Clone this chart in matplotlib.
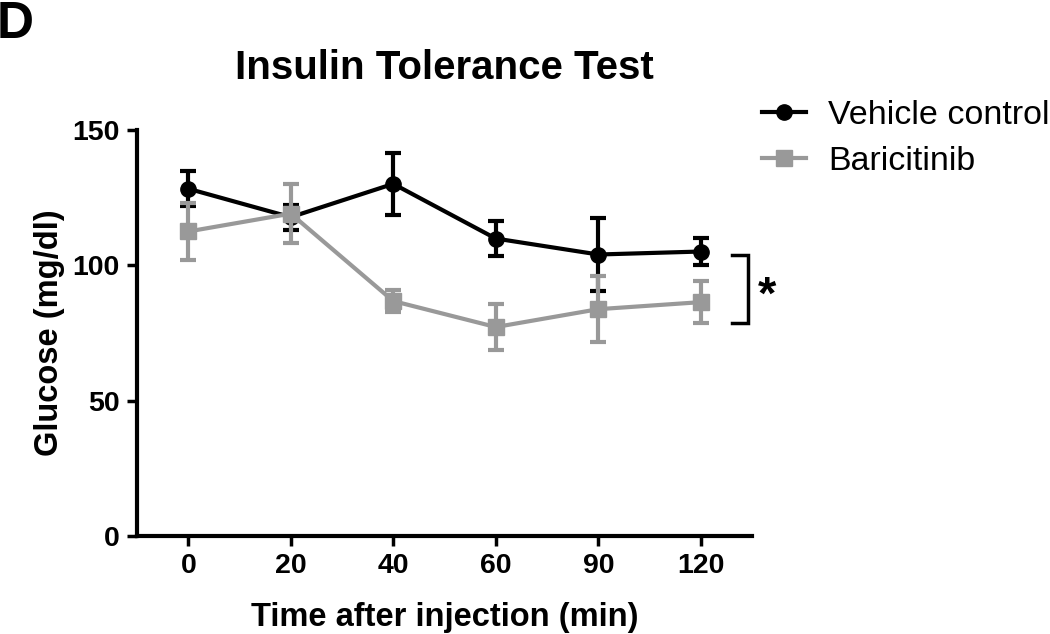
import numpy as np
import matplotlib
matplotlib.use("Agg")
import matplotlib.pyplot as plt
from matplotlib.lines import Line2D

plt.rcParams['font.family'] = ['Liberation Sans', 'DejaVu Sans']

time_labels = ["0", "20", "40", "60", "90", "120"]
vehicle_mean = [128.3, 117.8, 130.1, 109.9, 104.0, 105.1]
vehicle_err = [6.4, 4.6, 11.4, 6.6, 13.6, 5.0]
bari_mean = [112.5, 119.1, 86.8, 77.2, 83.8, 86.4]
bari_err = [10.5, 11.0, 4.2, 8.5, 12.2, 7.7]
series_names = ["Vehicle control", "Baricitinib"]
yticks = [0, 50, 100, 150]

BLACK = "#000000"
GRAY = "#999999"

fig = plt.figure(figsize=(10.5, 6.34), dpi=100)
ax = fig.add_axes([137/1050, 1-536/634, (752-137)/1050, (536-130)/634])

x = np.arange(len(time_labels))

ax.errorbar(x, vehicle_mean, yerr=vehicle_err, color=BLACK, lw=3, elinewidth=3,
            capsize=6, capthick=3, marker='o', ms=11, mec=BLACK, mfc=BLACK, zorder=3)
ax.errorbar(x, bari_mean, yerr=bari_err, color=GRAY, lw=3, elinewidth=3,
            capsize=6, capthick=3, marker='s', ms=12, mec=GRAY, mfc=GRAY, zorder=4)

ax.set_xlim(-0.5, 5.5)
ax.set_ylim(0, 150)
ax.set_xticks(x)
ax.set_xticklabels(time_labels)
ax.set_yticks(yticks)

for s in ['top', 'right']:
    ax.spines[s].set_visible(False)
for s in ['left', 'bottom']:
    ax.spines[s].set_linewidth(3)
ax.tick_params(axis='both', length=7.5, width=2.5, direction='out', pad=5,
               labelsize=20.5)
for lab in ax.get_xticklabels() + ax.get_yticklabels():
    lab.set_fontweight('bold')

ax.set_xlabel("Time after injection (min)", fontsize=23.5, fontweight='bold', labelpad=16)
ax.set_ylabel("Glucose (mg/dl)", fontsize=23.5, fontweight='bold', labelpad=5)

# significance bracket
ax.plot([5.30, 5.46, 5.46, 5.30], [104.0, 104.0, 78.7, 78.7], color=BLACK, lw=2.5,
        clip_on=False, solid_joinstyle='miter')
ax.text(5.65, 88.5, "*", fontsize=34, fontweight='bold', ha='center', va='center')

fig.text(444.5/1050, 1-79/634, "Insulin Tolerance Test", fontsize=29, fontweight='bold',
         ha='center', va='baseline')
fig.text(-0.003, 1-38/634, "D", fontsize=37, fontweight='bold', ha='left', va='baseline')

handles = [
    Line2D([], [], color=BLACK, lw=3, marker='o', ms=11, mfc=BLACK, mec=BLACK),
    Line2D([], [], color=GRAY, lw=3, marker='s', ms=12, mfc=GRAY, mec=GRAY),
]
fig.legend(handles, series_names, loc='upper left', bbox_to_anchor=(762/1050, 1-100/634),
           frameon=False, fontsize=24.5, handlelength=1.3, handletextpad=0.65,
           labelspacing=0.45, borderpad=0, borderaxespad=0)

fig.savefig("out.png", dpi=100)
